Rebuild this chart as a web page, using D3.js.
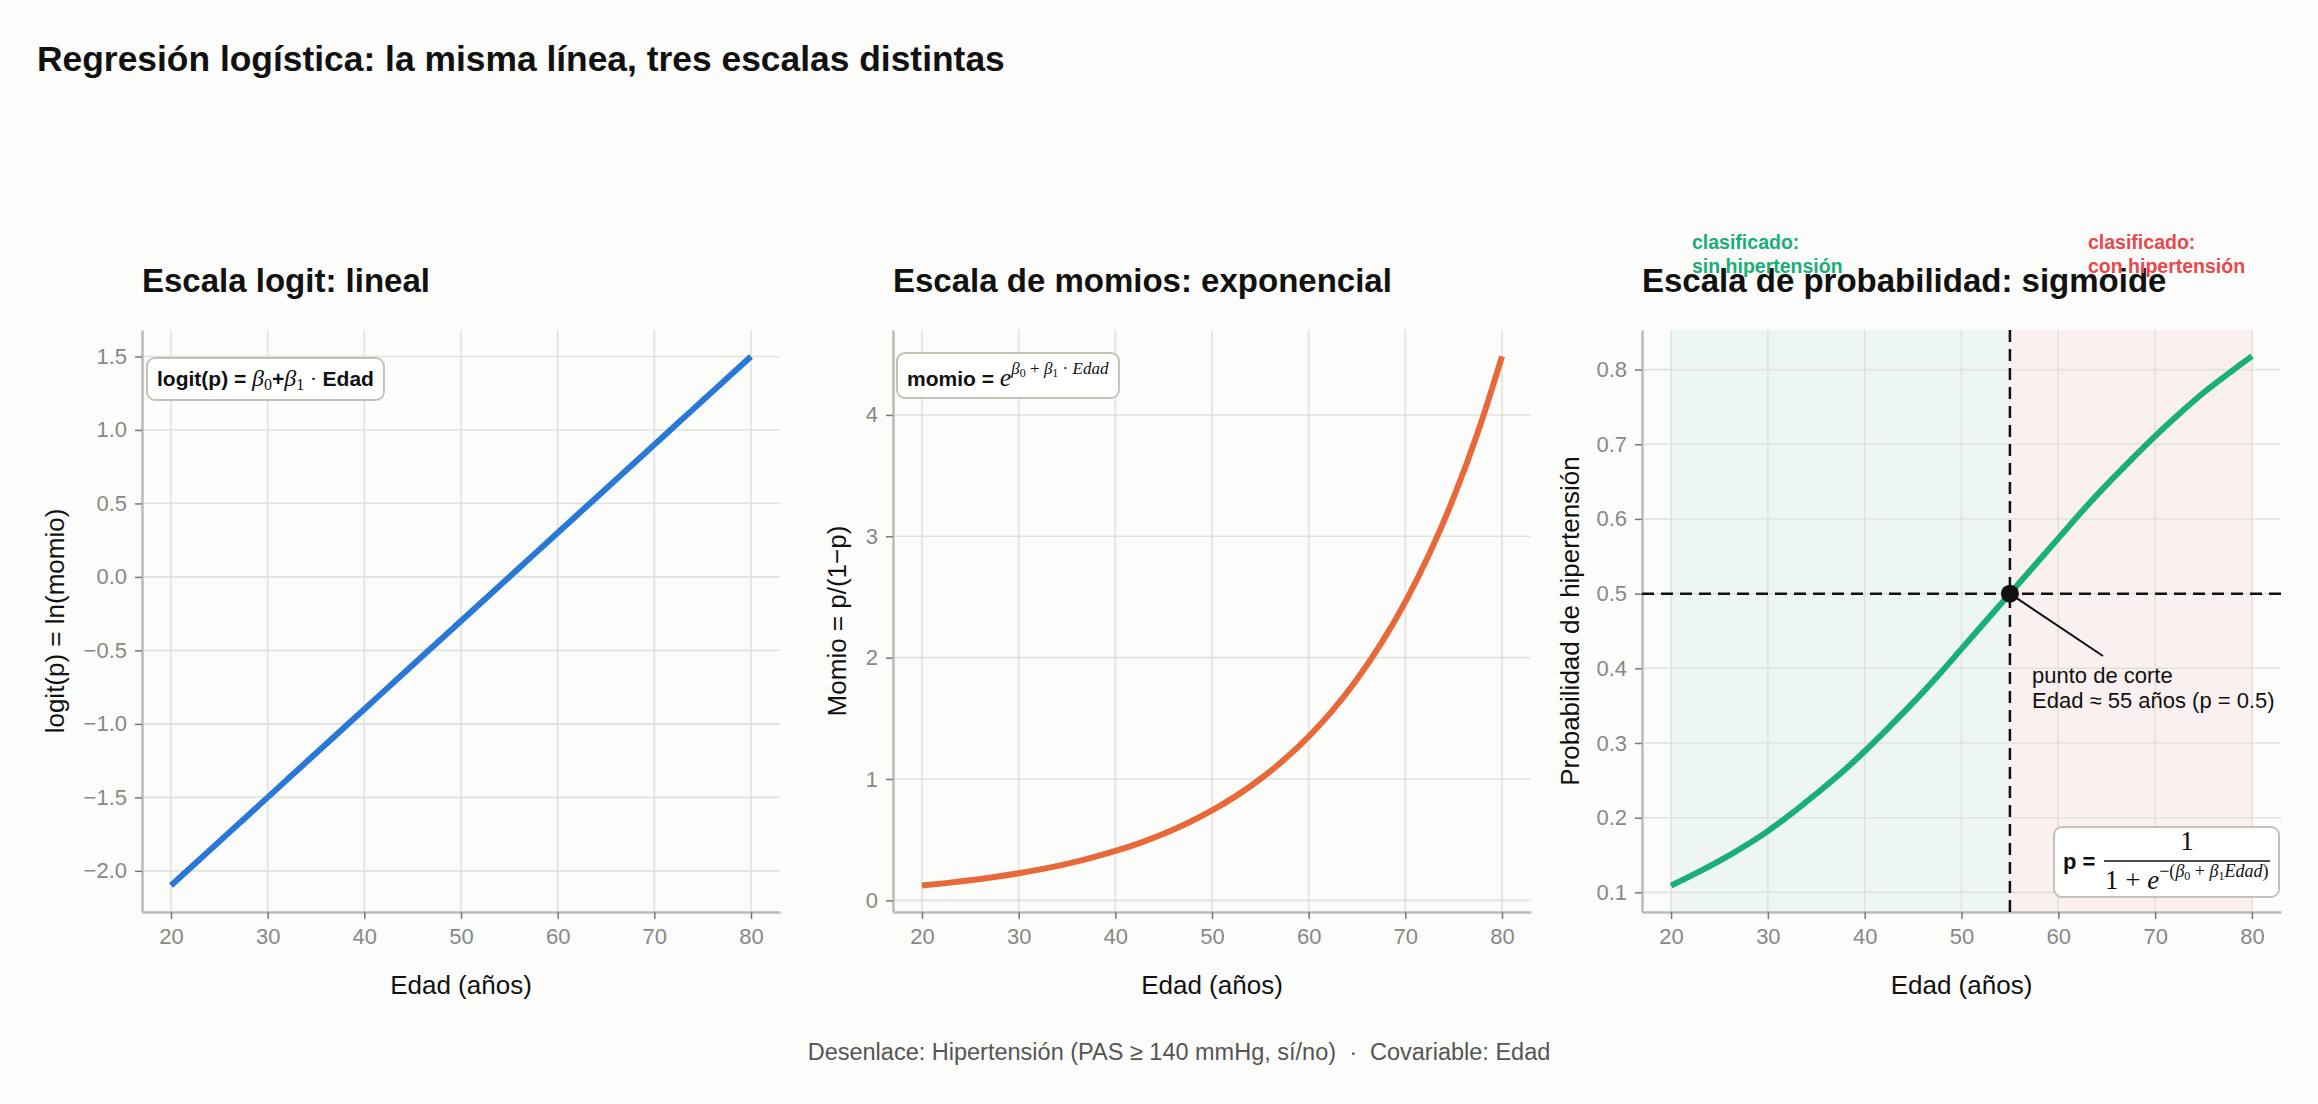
<!DOCTYPE html>
<html><head><meta charset="utf-8">
<script src="https://cdn.jsdelivr.net/npm/d3@7"></script>
<style>body{margin:0;background:#fcfcfa} svg{display:block}</style>
</head><body><svg id="c" width="2318" height="1104"></svg>
<script>
// ---- data ----
const ages = [20,22.5,25,27.5,30,32.5,35,37.5,40,42.5,45,47.5,50,52.5,55,57.5,60,62.5,65,67.5,70,72.5,75,77.5,80];
const logitVals = [-2.1,-1.95,-1.8,-1.65,-1.5,-1.35,-1.2,-1.05,-0.9,-0.75,-0.6,-0.45,-0.3,-0.15,0,0.15,0.3,0.45,0.6,0.75,0.9,1.05,1.2,1.35,1.5];
const oddsVals = [0.122,0.142,0.165,0.192,0.223,0.259,0.301,0.350,0.407,0.472,0.549,0.638,0.741,0.861,1.0,1.162,1.350,1.568,1.822,2.117,2.460,2.858,3.320,3.857,4.482];
const probVals = [0.109,0.125,0.142,0.161,0.182,0.206,0.232,0.259,0.289,0.321,0.354,0.389,0.426,0.463,0.5,0.537,0.574,0.611,0.646,0.679,0.711,0.741,0.769,0.794,0.818];
const xTicks = [20,30,40,50,60,70,80];
const logitTicks = [-2.0,-1.5,-1.0,-0.5,0.0,0.5,1.0,1.5];
const oddsTicks = [0,1,2,3,4];
const probTicks = [0.1,0.2,0.3,0.4,0.5,0.6,0.7,0.8];
const cutAge = 55, cutProb = 0.5;
const panelTitles = ["Escala logit: lineal","Escala de momios: exponencial","Escala de probabilidad: sigmoide"];
const yLabels = ["logit(p) = ln(momio)","Momio = p/(1\u2212p)","Probabilidad de hipertensión"];
const colors = ["#2a78d6","#e8683a","#1aae78"];

const svg = d3.select('#c');
const SANS = "'Liberation Sans', Arial, Helvetica, sans-serif";
const SERIF = "'Liberation Serif', 'DejaVu Serif', serif";
svg.append('rect').attr('width',2318).attr('height',1104).attr('fill','#fcfcfa');

svg.append('text').attr('x',37).attr('y',71).attr('font-family',SANS).attr('font-weight','bold')
  .attr('font-size',35.4).attr('fill','#111').text("Regresión logística: la misma línea, tres escalas distintas");

svg.append('text').attr('x',1179).attr('y',1060).attr('text-anchor','middle').attr('font-family',SANS)
  .attr('font-size',23.5).attr('fill','#555').style('white-space','pre')
  .text("Desenlace: Hipertensión (PAS \u2265 140 mmHg, sí/no)  \u00b7  Covariable: Edad");

const Y0 = 330, Y1 = 912;
const minus = s => s.replace('-','\u2212');

function panel(i, x0, x1, yDomain, yTicks, yFmt, vals, labelX, extras) {
  const g = svg.append('g');
  const x = d3.scaleLinear().domain([17,83]).range([x0,x1]);
  const y = d3.scaleLinear().domain(yDomain).range([Y1,Y0]);
  if (extras && extras.before) extras.before(g,x,y);
  g.selectAll(null).data(xTicks).join('line').attr('x1',d=>x(d)).attr('x2',d=>x(d))
    .attr('y1',Y0).attr('y2',Y1).attr('stroke','#e2e1db').attr('stroke-width',1.6);
  g.selectAll(null).data(yTicks).join('line').attr('y1',d=>y(d)).attr('y2',d=>y(d))
    .attr('x1',x0).attr('x2',x1).attr('stroke','#e2e1db').attr('stroke-width',1.6);
  const ax = g.append('g').attr('transform',`translate(0,${Y1})`)
    .call(d3.axisBottom(x).tickValues(xTicks).tickSize(7).tickSizeOuter(0).tickPadding(9).tickFormat(d3.format('d')));
  const ay = g.append('g').attr('transform',`translate(${x0},0)`)
    .call(d3.axisLeft(y).tickValues(yTicks).tickSize(7).tickSizeOuter(0).tickPadding(8).tickFormat(d=>minus(yFmt(d))));
  [ax,ay].forEach(a=>{
    a.select('.domain').attr('stroke','#bdbcb4').attr('stroke-width',2.5);
    a.selectAll('.tick line').attr('stroke','#777').attr('stroke-width',1.5);
    a.selectAll('.tick text').attr('fill','#888').attr('font-size',22).attr('font-family',SANS);
  });
  const line = d3.line().x((d,k)=>x(ages[k])).y(d=>y(d)).curve(d3.curveMonotoneX);
  if (extras && extras.mid) extras.mid(g,x,y);
  g.append('path').datum(vals).attr('d',line).attr('fill','none').attr('stroke',colors[i])
    .attr('stroke-width',6).attr('stroke-linecap','butt');
  g.append('text').attr('x',x0).attr('y',292).attr('font-family',SANS).attr('font-weight','bold')
    .attr('font-size',33).attr('fill','#111').text(panelTitles[i]);
  g.append('text').attr('x',(x0+x1)/2).attr('y',994).attr('text-anchor','middle').attr('font-family',SANS)
    .attr('font-size',26).attr('fill','#111').text("Edad (años)");
  g.append('text').attr('transform',`translate(${labelX},${(Y0+Y1)/2}) rotate(-90)`).attr('text-anchor','middle')
    .attr('dy','0.35em').attr('font-family',SANS).attr('font-size',26).attr('fill','#111').text(yLabels[i]);
  if (extras && extras.after) extras.after(g,x,y);
  return {g,x,y};
}

function boxAround(g, t, padX, padY) {
  const b = t.node().getBBox();
  g.insert('rect', () => t.node()).attr('x',b.x-padX).attr('y',b.y-padY).attr('width',b.width+2*padX)
    .attr('height',b.height+2*padY).attr('rx',8).attr('fill','#fff').attr('stroke','#c4c3ba').attr('stroke-width',2);
}

// Panel 1
panel(0, 142, 780, [-2.28,1.68], logitTicks, d3.format('.1f'), logitVals, 55, {
  after: (g)=>{
    const bg = g.append('g');
    const t = bg.append('text').attr('x',157).attr('y',386).attr('font-size',21).attr('fill','#111');
    t.append('tspan').attr('font-family',SANS).attr('font-weight','bold').text('logit(p) = ');
    t.append('tspan').attr('font-family',SERIF).attr('font-style','italic').attr('font-size',24).text('\u03b2');
    t.append('tspan').attr('font-family',SERIF).attr('font-size',16).attr('dy',4).text('0');
    t.append('tspan').attr('font-family',SANS).attr('font-weight','bold').attr('dy',-4).text('+');
    t.append('tspan').attr('font-family',SERIF).attr('font-style','italic').attr('font-size',24).text('\u03b2');
    t.append('tspan').attr('font-family',SERIF).attr('font-size',16).attr('dy',4).text('1');
    t.append('tspan').attr('font-family',SERIF).attr('font-size',22).attr('dy',-4).text(' \u00b7 ');
    t.append('tspan').attr('font-family',SANS).attr('font-weight','bold').text('Edad');
    boxAround(bg, t, 10, 7);
  }
});

// Panel 2
panel(1, 893, 1531, [-0.096,4.70], oddsTicks, d3.format('d'), oddsVals, 837, {
  after: (g)=>{
    const bg = g.append('g');
    const t = bg.append('text').attr('x',907).attr('y',386).attr('font-size',21).attr('fill','#111');
    t.append('tspan').attr('font-family',SANS).attr('font-weight','bold').text('momio = ');
    t.append('tspan').attr('font-family',SERIF).attr('font-style','italic').attr('font-size',26).text('e');
    const sup = (txt, it, fs, dy) => t.append('tspan').attr('font-family',SERIF).attr('font-style',it?'italic':'normal')
      .attr('font-size',fs).attr('dy',dy).text(txt);
    sup('\u03b2',true,17,-12); sup('0',false,12,3); sup(' + ',false,17,-3);
    sup('\u03b2',true,17,0); sup('1',false,12,3); sup(' \u00b7 ',false,17,-3); sup('Edad',true,17,0);
    boxAround(bg, t, 10, 6);
  }
});

// Panel 3
panel(2, 1642, 2281, [0.0737,0.853], probTicks, d3.format('.1f'), probVals, 1570, {
  before: (g,x,y)=>{
    g.append('rect').attr('x',x(20)).attr('width',x(cutAge)-x(20)).attr('y',Y0).attr('height',Y1-Y0).attr('fill','#eef6f1');
    g.append('rect').attr('x',x(cutAge)).attr('width',x(80)-x(cutAge)).attr('y',Y0).attr('height',Y1-Y0).attr('fill','#faf0f0');
  },
  mid: (g,x,y)=>{
    g.append('line').attr('x1',x(cutAge)).attr('x2',x(cutAge)).attr('y1',Y0).attr('y2',Y1)
      .attr('stroke','#111').attr('stroke-width',2.5).attr('stroke-dasharray','12,7');
    g.append('line').attr('x1',1642).attr('x2',2281).attr('y1',y(cutProb)).attr('y2',y(cutProb))
      .attr('stroke','#111').attr('stroke-width',2.5).attr('stroke-dasharray','12,7');
  },
  after: (g,x,y)=>{
    g.append('line').attr('x1',x(cutAge)).attr('y1',y(cutProb)).attr('x2',2103).attr('y2',656)
      .attr('stroke','#111').attr('stroke-width',2);
    g.append('circle').attr('cx',x(cutAge)).attr('cy',y(cutProb)).attr('r',9).attr('fill','#111');
    const at = g.append('text').attr('font-family',SANS).attr('font-size',22).attr('fill','#111');
    at.append('tspan').attr('x',2032).attr('y',683).text('punto de corte');
    at.append('tspan').attr('x',2032).attr('y',708).text('Edad \u2248 55 años (p = 0.5)');
    const cl = (xx, col, l2) => {
      const t = g.append('text').attr('font-family',SANS).attr('font-weight','bold').attr('font-size',19.5).attr('fill',col);
      t.append('tspan').attr('x',xx).attr('y',249).text('clasificado:');
      t.append('tspan').attr('x',xx).attr('y',273).text(l2);
    };
    cl(1692, '#1aae78', 'sin hipertensión');
    cl(2088, '#e8474c', 'con hipertensión');
    // formula box
    const bg = g.append('g');
    const fg = bg.append('g');
    fg.append('text').attr('x',2063).attr('y',869).attr('font-family',SANS).attr('font-weight','bold')
      .attr('font-size',22).attr('fill','#111').text('p =');
    fg.append('text').attr('x',2187).attr('y',850).attr('text-anchor','middle').attr('font-family',SERIF)
      .attr('font-size',27).attr('fill','#111').text('1');
    fg.append('line').attr('x1',2104).attr('x2',2270).attr('y1',861).attr('y2',861).attr('stroke','#111').attr('stroke-width',1.6);
    const den = fg.append('text').attr('x',2105).attr('y',889).attr('font-family',SERIF).attr('font-size',27).attr('fill','#111');
    den.append('tspan').text('1 + ');
    den.append('tspan').attr('font-style','italic').text('e');
    const s = (txt,it,fs,dy)=>den.append('tspan').attr('font-style',it?'italic':'normal').attr('font-size',fs).attr('dy',dy).text(txt);
    s('\u2212(',false,18,-12); s('\u03b2',true,18,0); s('0',false,12,3); s(' + ',false,18,-3);
    s('\u03b2',true,18,0); s('1',false,12,3); s('Edad',true,18,-3); s(')',false,18,0);
    bg.insert('rect', () => fg.node()).attr('x',2054).attr('y',827).attr('width',225).attr('height',70)
      .attr('rx',8).attr('fill','#fff').attr('stroke','#c4c3ba').attr('stroke-width',2);
  }
});
</script></body></html>
